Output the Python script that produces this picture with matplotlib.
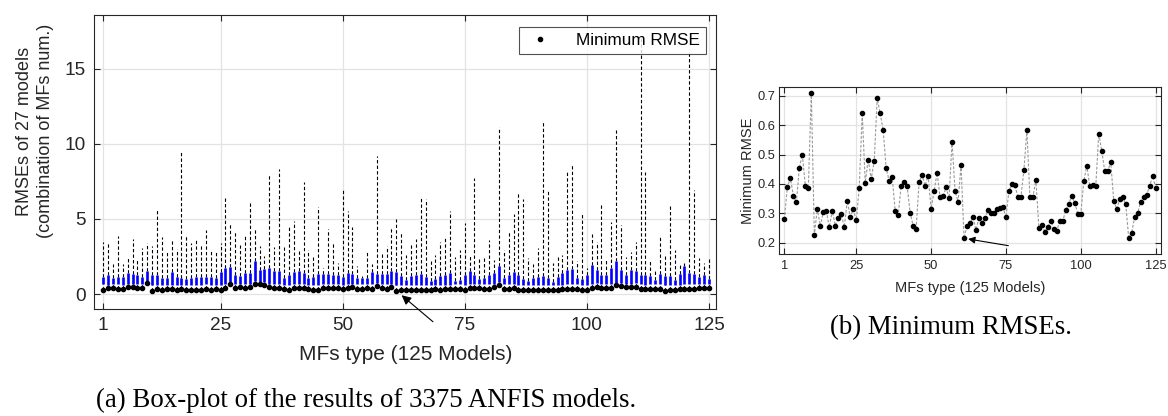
import numpy as np
import matplotlib
matplotlib.use("Agg")
import matplotlib.pyplot as plt

# ---- data -------------------------------------------------------------
models = np.arange(1, 126)

# minimum RMSE reached by each MFs type (best of its 27 models)
min_rmse = [
    0.28, 0.39, 0.42, 0.36, 0.337, 0.454, 0.50, 0.394, 0.387, 0.71,
    0.226, 0.315, 0.257, 0.305, 0.308, 0.253, 0.309, 0.258, 0.283, 0.296,
    0.253, 0.342, 0.288, 0.313, 0.276, 0.387, 0.642, 0.404, 0.483, 0.417,
    0.477, 0.691, 0.640, 0.582, 0.453, 0.411, 0.424, 0.309, 0.293, 0.393,
    0.406, 0.393, 0.302, 0.258, 0.248, 0.407, 0.430, 0.394, 0.428, 0.315,
    0.375, 0.437, 0.355, 0.358, 0.388, 0.351, 0.544, 0.377, 0.339, 0.463,
    0.215, 0.258, 0.268, 0.286, 0.244, 0.284, 0.267, 0.284, 0.310, 0.300,
    0.302, 0.313, 0.317, 0.322, 0.286, 0.377, 0.398, 0.395, 0.355, 0.355,
    0.447, 0.583, 0.355, 0.355, 0.414, 0.251, 0.261, 0.237, 0.254, 0.275,
    0.245, 0.241, 0.275, 0.275, 0.311, 0.333, 0.360, 0.334, 0.299, 0.298,
    0.409, 0.462, 0.392, 0.395, 0.393, 0.570, 0.513, 0.443, 0.443, 0.474,
    0.342, 0.315, 0.347, 0.356, 0.331, 0.217, 0.234, 0.288, 0.301, 0.339,
    0.355, 0.363, 0.393, 0.427, 0.386,
]

# maximum RMSE of each MFs type (upper whisker end)
max_rmse = [
    3.44, 3.49, 2.00, 3.84, 2.02, 2.42, 3.69, 2.24, 3.04, 3.40,
    3.22, 5.62, 3.80, 2.84, 3.62, 3.00, 9.44, 3.93, 3.40, 3.62,
    3.18, 4.27, 2.89, 2.89, 3.40, 6.40, 4.69, 4.18, 3.24, 3.91,
    6.07, 4.40, 3.22, 2.56, 8.02, 3.16, 8.33, 3.11, 4.56, 4.87,
    2.91, 7.44, 2.91, 2.51, 5.80, 1.73, 4.33, 3.40, 2.07, 6.96,
    5.56, 4.47, 1.89, 1.22, 2.78, 2.02, 9.22, 2.73, 3.22, 4.40,
    5.00, 4.10, 2.62, 3.40, 3.67, 6.40, 6.33, 2.20, 2.62, 3.47,
    3.78, 5.51, 2.47, 2.91, 4.71, 2.51, 7.73, 2.47, 2.40, 3.62,
    2.24, 11.11, 2.91, 4.10, 5.36, 6.78, 6.33, 2.40, 2.02, 3.07,
    11.51, 6.96, 2.07, 2.56, 2.62, 8.20, 8.62, 2.18, 5.36, 1.73,
    4.02, 3.47, 5.96, 2.24, 4.78, 10.90, 4.62, 2.47, 2.80, 3.47,
    17.20, 8.11, 2.29, 1.62, 3.78, 2.56, 5.84, 2.91, 1.96, 2.07,
    16.20, 6.96, 2.40, 2.07, 2.40,
]

# upper quartile of each MFs type
q3_rmse = [
    1.11, 1.29, 1.07, 1.13, 1.13, 1.40, 1.33, 1.29, 1.13, 1.56,
    1.24, 1.24, 1.04, 1.04, 1.44, 1.13, 1.07, 1.02, 1.09, 1.11,
    1.11, 1.11, 1.11, 1.09, 1.47, 1.73, 1.80, 1.24, 1.18, 1.40,
    1.40, 2.18, 1.62, 1.67, 1.76, 1.53, 1.53, 1.04, 1.27, 1.47,
    1.51, 1.38, 1.04, 1.13, 1.33, 1.33, 1.33, 1.24, 1.27, 1.13,
    1.40, 1.33, 1.07, 1.07, 1.09, 1.44, 1.33, 1.33, 1.33, 1.51,
    1.44, 1.18, 0.91, 1.22, 1.24, 1.36, 1.13, 0.84, 1.00, 1.18,
    1.29, 1.40, 0.84, 0.96, 1.29, 1.51, 1.29, 1.00, 1.07, 1.29,
    1.40, 1.89, 1.07, 1.24, 1.44, 1.29, 1.00, 0.84, 1.07, 1.13,
    1.18, 1.07, 0.78, 1.13, 1.40, 1.58, 1.67, 1.07, 1.00, 1.29,
    1.96, 1.62, 1.24, 1.29, 1.73, 2.18, 1.58, 1.29, 1.58, 1.51,
    1.24, 1.24, 1.18, 0.91, 1.36, 1.18, 1.22, 0.91, 1.36, 1.84,
    1.40, 1.36, 1.11, 1.24, 1.00,
]

# lower quartile of each MFs type
q1_rmse = [
    0.67, 0.62, 0.66, 0.64, 0.63, 0.66, 0.70, 0.66, 0.64, 0.72,
    0.58, 0.62, 0.60, 0.62, 0.63, 0.60, 0.62, 0.60, 0.62, 0.63,
    0.60, 0.64, 0.62, 0.63, 0.62, 0.68, 0.82, 0.66, 0.70, 0.66,
    0.70, 0.86, 0.82, 0.78, 0.70, 0.66, 0.68, 0.62, 0.62, 0.66,
    0.66, 0.66, 0.62, 0.60, 0.60, 0.66, 0.68, 0.66, 0.68, 0.62,
    0.66, 0.68, 0.64, 0.64, 0.66, 0.64, 0.74, 0.66, 0.64, 0.70,
    0.58, 0.60, 0.60, 0.62, 0.60, 0.62, 0.60, 0.62, 0.63, 0.63,
    0.63, 0.63, 0.64, 0.64, 0.62, 0.66, 0.68, 0.68, 0.66, 0.66,
    0.70, 0.78, 0.66, 0.66, 0.68, 0.60, 0.60, 0.60, 0.60, 0.62,
    0.60, 0.60, 0.62, 0.62, 0.63, 0.64, 0.66, 0.64, 0.63, 0.63,
    0.68, 0.72, 0.66, 0.66, 0.66, 0.76, 0.72, 0.70, 0.70, 0.72,
    0.64, 0.63, 0.64, 0.64, 0.64, 0.58, 0.60, 0.62, 0.63, 0.64,
    0.66, 0.66, 0.66, 0.68, 0.66,
]

x_ticks = [1, 25, 50, 75, 100, 125]
left_yticks = [0, 5, 10, 15]
right_yticks = [0.2, 0.3, 0.4, 0.5, 0.6, 0.7]

# ---- style ------------------------------------------------------------
plt.rcParams["font.family"] = ["Liberation Sans", "DejaVu Sans"]
axis_col = "#262626"
grid_col = "#e3e3e3"


def matlab_axes(ax, fs, pad):
    ax.set_axisbelow(True)
    ax.grid(True, color=grid_col, linewidth=0.9)
    for s in ax.spines.values():
        s.set_color(axis_col)
        s.set_linewidth(0.8)
    ax.tick_params(direction="in", top=True, right=True, length=4,
                   width=0.8, color=axis_col, labelcolor=axis_col,
                   labelsize=fs, pad=pad)


fig = plt.figure(figsize=(11.68, 4.16), dpi=100)

# ---- (a) box plot -----------------------------------------------------
ax1 = fig.add_axes([0.0805, 0.2572, 0.5323, 0.7075])
matlab_axes(ax1, 13.7, 6)
ax1.vlines(models, min_rmse, q1_rmse, colors="black", linestyles=(0, (3, 2)),
           linewidth=0.8, zorder=2)
ax1.vlines(models, q3_rmse, max_rmse, colors="black", linestyles=(0, (3, 2)),
           linewidth=0.8, zorder=2)
ax1.vlines(models, q1_rmse, q3_rmse, colors="#0000ff", linewidth=1.9, zorder=3)
ax1.plot(models, min_rmse, linestyle="none", marker="o", markersize=3.0,
         color="black", zorder=4, label="Minimum RMSE")
ax1.set_xlim(-0.9, 126.4)
ax1.set_ylim(-1.0, 18.62)
ax1.set_xticks(x_ticks)
ax1.set_yticks(left_yticks)
ax1.set_xlabel("MFs type (125 Models)", fontsize=15, color=axis_col)
ax1.xaxis.set_label_coords(0.502, -0.122)
ax1.set_ylabel("RMSEs of 27 models\n(combination of MFs num.)", fontsize=13,
               color=axis_col, linespacing=1.32)
ax1.yaxis.set_label_coords(-0.064, 0.605)
leg = ax1.legend(loc="upper right", fontsize=12.3, frameon=True, fancybox=False,
                 handlelength=1.8, handletextpad=1.2, borderpad=0.35,
                 borderaxespad=0, bbox_to_anchor=(0.984, 0.958))
leg.get_frame().set_edgecolor(axis_col)
leg.get_frame().set_linewidth(0.8)

best = int(np.argmin(min_rmse))
ax1.annotate("", xy=(models[best], min_rmse[best]), xytext=(68.5, -1.85),
             annotation_clip=False,
             arrowprops=dict(arrowstyle="-|>", color="black", lw=0.8,
                             mutation_scale=14, shrinkA=0, shrinkB=5))

# ---- (b) minimum RMSE line ---------------------------------------------
ax2 = fig.add_axes([0.6672, 0.3894, 0.3271, 0.4022])
matlab_axes(ax2, 9.3, 3)
ax2.plot(models, min_rmse, color="#9a9a9a", linestyle=(0, (2.5, 1.5)),
         linewidth=0.8, marker="o", markersize=3.0, markerfacecolor="black",
         markeredgecolor="black", zorder=3)
ax2.set_xlim(-0.7, 126.9)
ax2.set_ylim(0.1616, 0.7306)
ax2.set_xticks(x_ticks)
ax2.set_yticks(right_yticks)
ax2.tick_params(axis="x", pad=4)
ax2.set_xlabel("MFs type (125 Models)", fontsize=10.5, color=axis_col)
ax2.xaxis.set_label_coords(0.5, -0.161)
ax2.set_ylabel("Minimum RMSE", fontsize=10.5, color=axis_col)
ax2.yaxis.set_label_coords(-0.063, 0.5)
ax2.annotate("", xy=(models[best], min_rmse[best]), xytext=(75.8, 0.19),
             annotation_clip=False,
             arrowprops=dict(arrowstyle="-|>", color="black", lw=0.8,
                             mutation_scale=10, shrinkA=0, shrinkB=3))

# ---- captions ---------------------------------------------------------
fig.text(0.3134, 0.038, "(a) Box-plot of the results of 3375 ANFIS models.",
         ha="center", va="center", fontsize=19.4, family="Liberation Serif")
fig.text(0.814, 0.2115, "(b) Minimum RMSEs.", ha="center", va="center",
         fontsize=19.4, family="Liberation Serif")

fig.savefig("out.png", dpi=100)
